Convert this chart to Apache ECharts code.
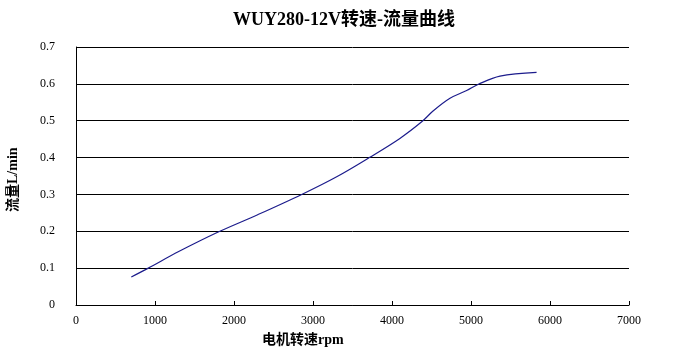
<!DOCTYPE html>
<html><head><meta charset="utf-8">
<script src="https://cdn.jsdelivr.net/npm/echarts@6/dist/echarts.min.js"></script>
<style>html,body{margin:0;padding:0;background:#fff}#c{width:688px;height:358px}</style>
</head><body><div id="c"></div>
<script>
var title = 'WUY280-12V转速-流量曲线';
var xName = '电机转速rpm';
var yName = '流量L/min';
var speed = [700, 915, 1300, 1800, 2300, 2857, 3300, 3713, 4100, 4376, 4523, 4734, 4945, 5093, 5367, 5830];
var flow  = [0.076, 0.1, 0.145, 0.198, 0.245, 0.3, 0.348, 0.4, 0.452, 0.497, 0.527, 0.561, 0.582, 0.599, 0.621, 0.631];

var pts = speed.map(function(s, i){ return [s, flow[i]]; });
var chart = echarts.init(document.getElementById('c'));
var serif = '"Liberation Serif", "Noto Sans CJK SC", serif';
chart.setOption({
  animation: false,
  backgroundColor: '#fff',
  title: { text: title, left: 'center', top: 6,
    textStyle: { fontSize: 18, fontWeight: 'bold', color: '#000', fontFamily: serif } },
  grid: { left: 76, right: 59, top: 47, bottom: 53 },
  xAxis: { type: 'value', min: 0, max: 7000, interval: 1000,
    axisLine: { lineStyle: { color: '#000', width: 1 } },
    axisTick: { inside: true, length: 4, lineStyle: { color: '#000' } },
    axisLabel: { color: '#000', fontSize: 12, fontFamily: serif, margin: 10,
      formatter: function(v){ return String(v); } },
    splitLine: { show: false } },
  yAxis: { type: 'value', min: 0, max: 0.7, interval: 0.1,
    axisLine: { show: true, lineStyle: { color: '#000', width: 1 } },
    axisTick: { show: false },
    axisLabel: { color: '#000', fontSize: 12, fontFamily: serif, margin: 21,
      formatter: function(v){ return v === 0 ? '0' : v.toFixed(1); } },
    splitLine: { show: true, lineStyle: { color: '#000', width: 1 } } },
  graphic: [
    { type: 'text', left: 262, top: 333, style: { text: xName, fill: '#000', font: 'bold 14px ' + serif } },
    { type: 'text', x: 6, y: 212, rotation: Math.PI / 2, style: { text: yName, fill: '#000', font: 'bold 14px ' + serif } }
  ],
  series: [{ type: 'line', data: pts, smooth: 0.35, showSymbol: false,
    lineStyle: { color: '#1c1c8c', width: 1.2 } }]
});
</script></body></html>
